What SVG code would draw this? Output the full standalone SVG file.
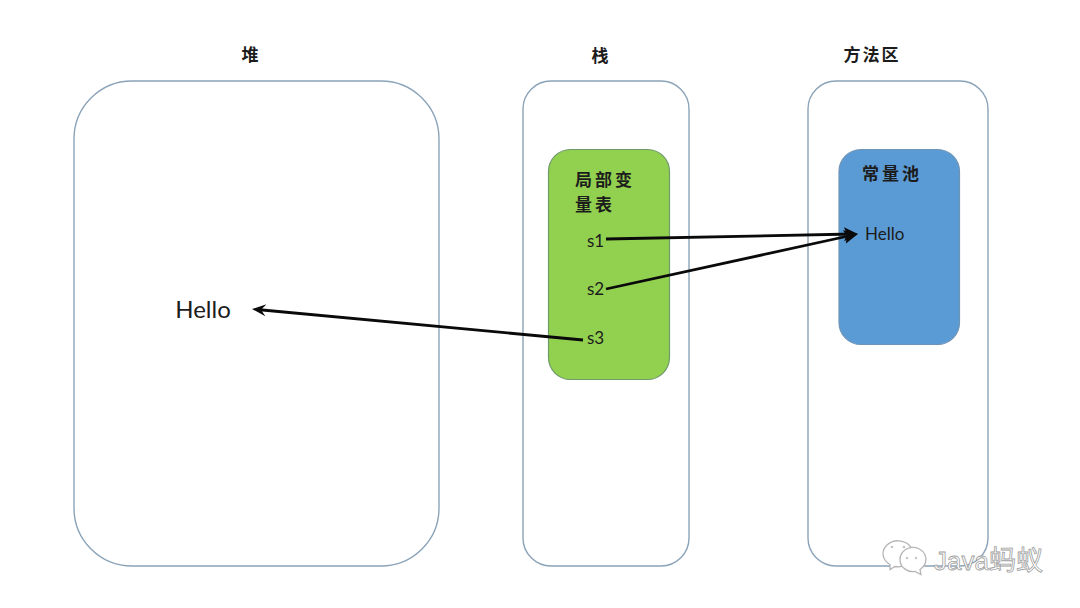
<svg xmlns="http://www.w3.org/2000/svg" width="1080" height="608" viewBox="0 0 1080 608">
<style>
.box{fill:#fff;stroke:#8ba3b8;stroke-width:1.4}
.cjk{font-family:"Noto Sans CJK SC","Noto Sans CJK JP",sans-serif;font-weight:700;font-size:17px;fill:#1c1c1c}
.lat{font-family:Lato,"Noto Sans",sans-serif;fill:#1c1c1c}
.line{stroke:#0a0a0a;stroke-width:2.8;fill:none}
.wm{font-family:"Liberation Sans",sans-serif;font-size:26px;fill:#fff;stroke:#a0a0a0;stroke-width:.8}
.wmi{fill:#fff;stroke:#b5b5b5;stroke-width:1.3}
.dot{fill:#c4c4c4}
</style>
<defs>
<marker id="a" markerUnits="userSpaceOnUse" markerWidth="16" markerHeight="16" refX="9" refY="7" orient="auto"><path d="M0 0L14 7L0 14L3 7Z" fill="#0a0a0a"/></marker>
<marker id="b" markerUnits="userSpaceOnUse" markerWidth="16" markerHeight="16" refX="9" refY="7" orient="auto"><path d="M0 1L14 7L0 13L5 7Z" fill="#0a0a0a"/></marker>
</defs>
<rect width="1080" height="608" fill="#fff"/>
<g id="heap"><rect class="box" x="74" y="81" width="365" height="485" rx="58"/><text class="cjk" x="250" y="61" text-anchor="middle">堆</text><text class="lat" x="203" y="318" font-size="24" text-anchor="middle">Hello</text></g>
<g id="stack"><rect class="box" x="523" y="81" width="166" height="485" rx="28"/><text class="cjk" x="600" y="62" text-anchor="middle">栈</text></g>
<g id="method-area"><rect class="box" x="808" y="81" width="180" height="485" rx="28"/><text class="cjk" x="872" y="61" text-anchor="middle" letter-spacing="2">方法区</text></g>
<g id="locals"><rect x="548.500" y="149.500" width="121" height="230" rx="22" fill="#92d050" stroke="#6f9a6a" stroke-width="1.200"/><text class="cjk" x="575" y="186" letter-spacing="3">局部变</text><text class="cjk" x="575" y="211" letter-spacing="3">量表</text><text class="lat" x="587" y="247" font-size="17">s1</text><text class="lat" x="587" y="295" font-size="17">s2</text><text class="lat" x="587" y="344" font-size="17">s3</text></g>
<g id="constant-pool"><rect x="839" y="149.500" width="120.500" height="195" rx="22" fill="#5b9bd5" stroke="#6f93b5" stroke-width="1.200"/><text class="cjk" x="862" y="180" letter-spacing="3">常量池</text><text class="lat" x="865" y="240" font-size="17">Hello</text></g>
<g id="connectors">
<path class="line" marker-end="url(#a)" d="M606 239L853 234"/>
<path class="line" marker-end="url(#a)" d="M606 289L853 235"/>
<path class="line" marker-end="url(#b)" d="M583 340L257 309.500"/>
</g>
<g id="watermark">
<path class="wmi" d="M883 554a15 13 0 1 1 12 12.500l-5 3 0-5a14 13 0 0 1-7-10.500Z"/>
<path class="wmi" d="M900 560a13 12 0 1 1 20 9.500l1 5-6-3a13 12 0 0 1-15-11.500Z"/>
<circle class="dot" cx="892" cy="547" r="1.300"/><circle class="dot" cx="904" cy="547" r="1.300"/><circle class="dot" cx="907" cy="558" r="1.200"/><circle class="dot" cx="916" cy="558" r="1.200"/>
<text class="wm" x="934" y="570">Java<tspan font-family="Noto Sans CJK SC,sans-serif" font-size="27">蚂蚁</tspan></text>
</g>
</svg>
